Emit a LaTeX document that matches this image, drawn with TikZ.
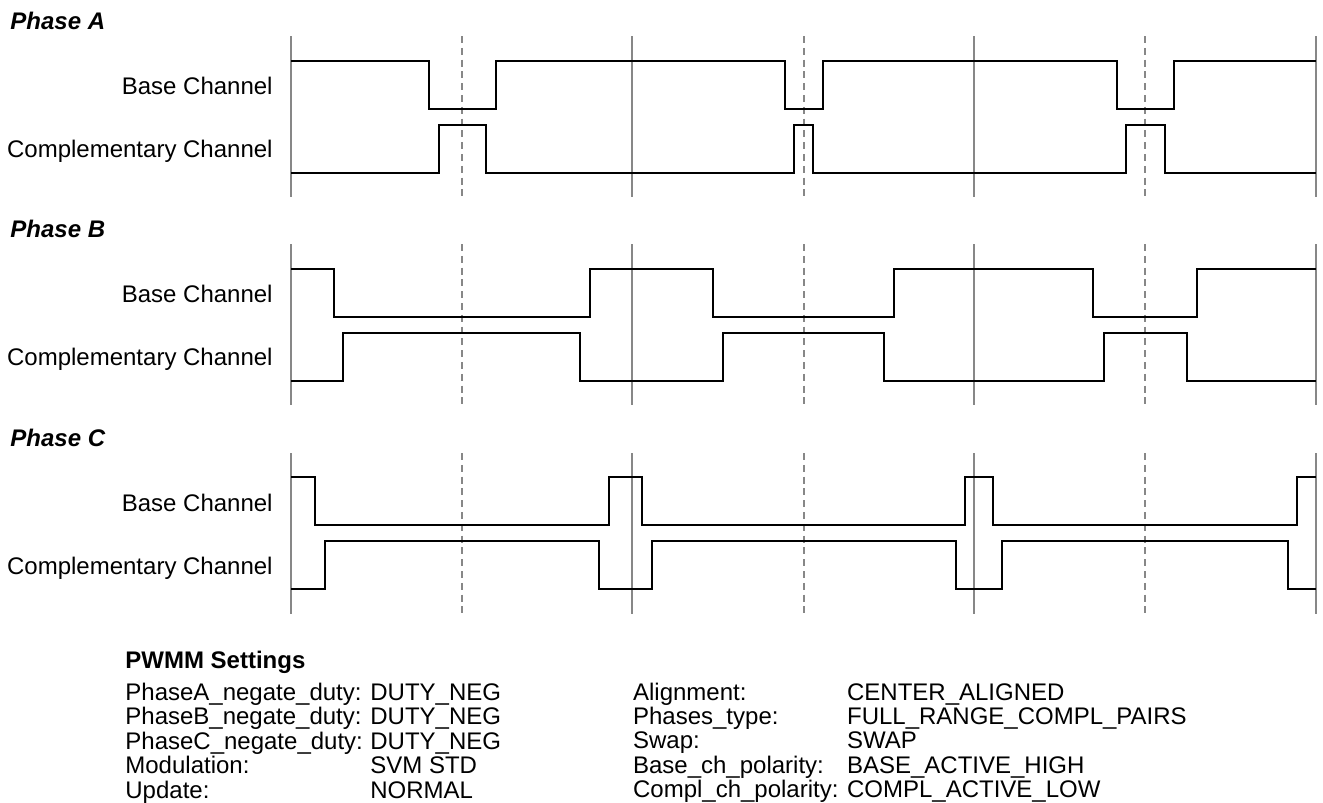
\documentclass[tikz,border=0pt]{standalone}
\usepackage{fontspec}
\setmainfont{Liberation Sans}
\usepackage{tikz}
\usetikzlibrary{positioning}
\definecolor{gridgray}{gray}{0.53}

\begin{document}
\begin{tikzpicture}[
    x=0.5pt, y=-0.5pt,
    every node/.style={inner sep=0pt, font=\fontsize{12}{12}\selectfont},
    wave/.style={draw=black, line width=0.8pt},
    solidgrid/.style={draw=gridgray, line width=0.7pt},
    dashgrid/.style={draw=gridgray, line width=0.7pt, dash pattern=on 3.5pt off 2.4pt},
    phase/.style={anchor=base west, font=\fontsize{12}{12}\selectfont\bfseries\itshape},
    chan/.style={anchor=base east}
]
\useasboundingbox (0,0) rectangle (1323,803);

% grid and labels per phase
\foreach \p/\dy in {A/0, B/208, C/417} {
  \foreach \x in {291, 632, 974, 1316} \draw[solidgrid] (\x,36+\dy) -- (\x,197+\dy);
  \foreach \x in {462, 804, 1145} \draw[dashgrid] (\x,36+\dy) -- (\x,197+\dy);
  \node[phase] (ph\p) at (10,29+\dy) {Phase \p};
  \node[chan] (base\p) at (273,94+\dy) {Base Channel};
  \node[chan] (comp\p) at (273,157+\dy) {Complementary Channel};
}

% Phase A
\draw[wave] (291,61) -| (429,109) -| (496,61) -| (785,109) -| (823,61) -| (1117,109) -| (1174,61) -- (1316,61);
\draw[wave] (291,173) -| (439,125) -| (486,173) -| (794,125) -| (813,173) -| (1126,125) -| (1165,173) -- (1316,173);
% Phase B
\draw[wave] (291,269) -| (334,317) -| (590,269) -| (713,317) -| (894,269) -| (1093,317) -| (1197,269) -- (1316,269);
\draw[wave] (291,381) -| (343,333) -| (580,381) -| (723,333) -| (884,381) -| (1104,333) -| (1187,381) -- (1316,381);
% Phase C
\draw[wave] (291,477) -| (315,525) -| (609,477) -| (642,525) -| (965,477) -| (993,525) -| (1297,477) -- (1316,477);
\draw[wave] (291,589) -| (325,541) -| (599,589) -| (652,541) -| (956,589) -| (1002,541) -| (1288,589) -- (1316,589);

% settings
\node[anchor=base west, font=\fontsize{12}{12}\selectfont\bfseries] (settitle) at (125,668) {PWMM Settings};
\node[anchor=base west] (setleft) at (125,700) {%
  \begin{tabular}[t]{@{}p{122.5pt}@{}l@{}}
    PhaseA\_negate\_duty: & DUTY\_NEG\\
    PhaseB\_negate\_duty: & DUTY\_NEG\\
    PhaseC\_negate\_duty: & DUTY\_NEG\\
    Modulation: & SVM STD\\
    Update: & NORMAL
  \end{tabular}};
\node[anchor=base west] (setright) at (632.7,700) {%
  \begin{tabular}[t]{@{}p{107pt}@{}l@{}}
    Alignment: & CENTER\_ALIGNED\\
    Phases\_type: & FULL\_RANGE\_COMPL\_PAIRS\\
    Swap: & SWAP\\
    Base\_ch\_polarity: & BASE\_ACTIVE\_HIGH\\
    Compl\_ch\_polarity: & COMPL\_ACTIVE\_LOW
  \end{tabular}};
\end{tikzpicture}
\end{document}
